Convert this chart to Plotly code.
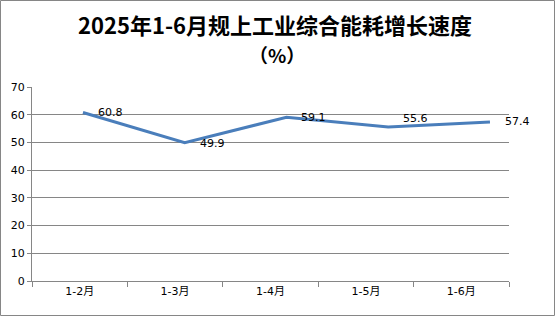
import plotly.graph_objects as go

categories = ["1-2月", "1-3月", "1-4月", "1-5月", "1-6月"]
values = [60.8, 49.9, 59.1, 55.6, 57.4]
labels = ["60.8", "49.9", "59.1", "55.6", "57.4"]
title_line1 = "2025年1-6月规上工业综合能耗增长速度"
title_line2 = "（%）"

L, R, T, B = 32, 46, 87, 35
W, H = 555, 316
pw, ph = W - L - R, H - T - B

# label vertical nudges (pixels), as in the reference rendering
label_yshift = [0, -1, 0, 8, 0]

fig = go.Figure()
# invisible trace to keep the category axis populated
fig.add_trace(go.Scatter(x=categories, y=[None] * len(categories), mode="lines",
                         showlegend=False, hoverinfo="skip"))
# data line drawn on an overlaying axis (reference line is slightly stretched)
idx = list(range(len(categories)))
fig.add_trace(go.Scatter(
    x=idx, y=values, mode="lines", xaxis="x2",
    line=dict(color="#4A7EBB", width=3),
    showlegend=False, cliponaxis=False,
))

annotations = []
for i, (v, t) in enumerate(zip(values, labels)):
    annotations.append(dict(x=i, y=v, xref="x2", yref="y", text=t, showarrow=False,
                            xanchor="left", yanchor="middle", xshift=13,
                            yshift=label_yshift[i],
                            font=dict(family="DejaVu Sans, Verdana, sans-serif", size=11,
                                      color="#000000")))
annotations.append(dict(x=(275 - L) / pw, y=(ph + T - 24) / ph, xref="paper", yref="paper",
                        text="<b>" + title_line1 + "</b>", showarrow=False,
                        xanchor="center", yanchor="middle", borderpad=0,
                        font=dict(family="Noto Sans CJK SC", size=22, color="#000000")))
annotations.append(dict(x=(277 - L) / pw, y=(ph + T - 55) / ph, xref="paper", yref="paper",
                        text="<b>" + title_line2 + "</b>", showarrow=False,
                        xanchor="center", yanchor="middle", borderpad=0,
                        font=dict(family="Noto Sans CJK SC", size=19, color="#000000")))

fig.update_layout(
    width=W, height=H,
    margin=dict(l=L, r=R, t=T, b=B),
    paper_bgcolor="white", plot_bgcolor="white",
    xaxis=dict(type="category", range=[-0.5, 4.5], showgrid=False,
               showline=True, linecolor="#868686", linewidth=1,
               ticks="outside", tickson="boundaries", ticklen=5, tickcolor="#868686",
               tickfont=dict(family="DejaVu Sans, Noto Sans CJK SC", size=11, color="#000000"),
               zeroline=False),
    xaxis2=dict(overlaying="x", range=[-0.501, 4.187], visible=False, showgrid=False,
                zeroline=False),
    yaxis=dict(range=[0, 70], dtick=10, showgrid=True, gridcolor="#868686", gridwidth=1,
               showline=True, linecolor="#868686", linewidth=1,
               ticks="outside", ticklen=4, tickcolor="#868686",
               tickfont=dict(family="DejaVu Sans, Verdana, sans-serif", size=11, color="#000000"),
               zeroline=False),
    annotations=annotations,
    shapes=[dict(type="rect", xref="paper", yref="paper",
                 x0=(0.5 - L) / pw, x1=(W - 0.5 - L) / pw,
                 y0=-(B - 0.5) / ph, y1=(ph + T - 0.5) / ph,
                 line=dict(color="#868686", width=1), layer="above")],
)

fig.write_html("out.html")
